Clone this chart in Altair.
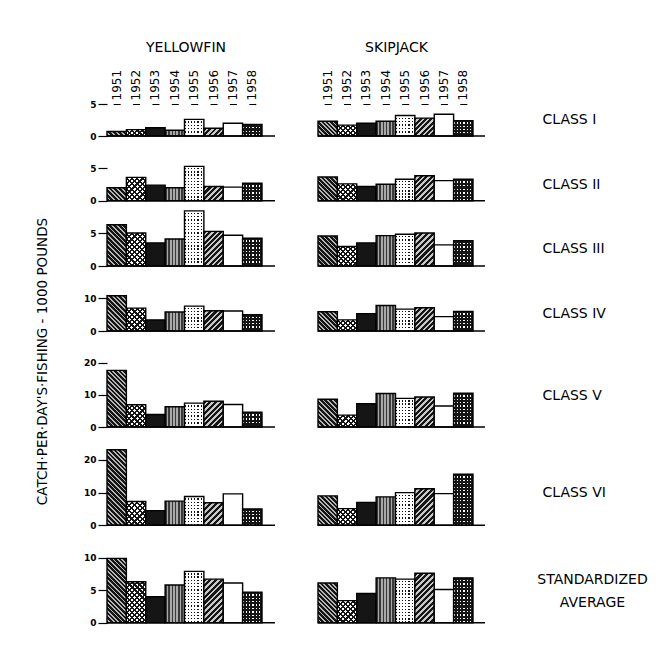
import altair as alt
import pandas as pd

years = ["1951", "1952", "1953", "1954", "1955", "1956", "1957", "1958"]
species = ["YELLOWFIN", "SKIPJACK"]
row_labels = ["CLASS I", "CLASS II", "CLASS III", "CLASS IV", "CLASS V", "CLASS VI",
              ["STANDARDIZED", "AVERAGE"]]
y_title = "CATCH·PER·DAY'S·FISHING - 1000 POUNDS"

yf_class1 = [0.7, 1.0, 1.3, 0.9, 2.6, 1.2, 2.0, 1.8]
sj_class1 = [2.3, 1.7, 2.0, 2.3, 3.2, 2.8, 3.4, 2.4]
yf_class2 = [2.0, 3.6, 2.4, 2.0, 5.3, 2.2, 2.1, 2.7]
sj_class2 = [3.65, 2.6, 2.2, 2.55, 3.3, 3.85, 3.1, 3.3]
yf_class3 = [6.25, 5.0, 3.5, 4.1, 8.35, 5.25, 4.65, 4.2]
sj_class3 = [4.55, 2.95, 3.5, 4.6, 4.8, 5.0, 3.2, 3.85]
yf_class4 = [10.8, 7.0, 3.4, 5.8, 7.6, 6.2, 6.1, 5.0]
sj_class4 = [5.9, 3.4, 5.3, 7.8, 6.7, 7.1, 4.4, 6.0]
yf_class5 = [17.6, 6.9, 3.9, 6.3, 7.4, 8.0, 7.0, 4.6]
sj_class5 = [8.6, 3.7, 7.2, 10.4, 8.9, 9.3, 6.5, 10.5]
yf_class6 = [23.1, 7.3, 4.5, 7.4, 8.8, 6.9, 9.6, 5.0]
sj_class6 = [9.0, 5.1, 7.0, 8.7, 10.0, 11.2, 9.7, 15.6]
yf_std = [9.9, 6.3, 4.0, 5.8, 7.9, 6.7, 6.1, 4.7]
sj_std = [6.1, 3.4, 4.5, 6.9, 6.7, 7.6, 5.1, 6.9]

tick_values = [[0, 5], [0, 5], [0, 5], [0, 10], [0, 10, 20], [0, 10, 20], [0, 5, 10]]

yf_rows = [yf_class1, yf_class2, yf_class3, yf_class4, yf_class5, yf_class6, yf_std]
sj_rows = [sj_class1, sj_class2, sj_class3, sj_class4, sj_class5, sj_class6, sj_std]

# ---- styling / layout (not data) ----
FONT = "DejaVu Sans"
heights = [32, 64.7, 65, 65, 96, 98.3, 96.7]
px_per_unit = [6.4, 6.48, 6.6, 3.27, 3.22, 3.27, 6.5]
label_y = [15.7, 48, 47.8, 47.3, 64.3, 65.8, 64.3]
BAR_RANGE = 155
BAR_W = BAR_RANGE / 8
YF_W = 168
SJ_W = 167
CLEAR = "rgba(255,255,255,0)"
INK = "#151515"

# pattern per year: list of fill layers (kind, colour-a, colour-b, period px, fraction of a)
patterns = [
    [("back", INK, "#b5b5b5", 3.2, 0.6)],                                   # 1951 "\" hatch
    [("solid", "#ffffff"), ("fwd", INK, CLEAR, 3.6, 0.42),
     ("back", INK, CLEAR, 3.6, 0.42)],                                       # 1952 cross-hatch
    [("solid", INK)],                                                        # 1953 black
    [("vert", "#3a3a3a", "#a8a8a8", 3.2, 0.5)],                              # 1954 grey stripes
    [("solid", "#ffffff"), ("vert", INK, CLEAR, 3.2, 0.4),
     ("horz", "#ffffff", CLEAR, 3.2, 0.6)],                                  # 1955 light dots
    [("fwd", INK, "#c8c8c8", 4.0, 0.55)],                                    # 1956 "/" hatch
    [("solid", "#ffffff")],                                                  # 1957 white
    [("solid", INK), ("vert", "#ffffff", CLEAR, 3.4, 0.4),
     ("horz", INK, CLEAR, 3.4, 0.6)],                                        # 1958 dark dots
]


def stripe_stops(n, a_col, b_col, frac):
    stops = []
    for k in range(n):
        a = k / n
        b = (k + frac) / n
        c = (k + 1) / n
        stops += [alt.GradientStop(offset=round(a, 5), color=a_col),
                  alt.GradientStop(offset=round(b, 5), color=a_col),
                  alt.GradientStop(offset=round(b, 5), color=b_col),
                  alt.GradientStop(offset=round(c, 5), color=b_col)]
    return stops


def make_fill(spec, h_px):
    if spec[0] == "solid":
        return spec[1]
    kind, a_col, b_col, period, frac = spec
    w = BAR_W
    h = max(h_px, 1.0)
    if kind == "vert":
        n = max(1, round(w / period))
        return alt.LinearGradient(gradient="linear", x1=0, y1=0, x2=1, y2=0,
                                  stops=stripe_stops(n, a_col, b_col, frac))
    if kind == "horz":
        n = max(1, round(h / period))
        return alt.LinearGradient(gradient="linear", x1=0, y1=0, x2=0, y2=1,
                                  stops=stripe_stops(n, a_col, b_col, frac))
    s = (w + h) / (w * w + h * h)
    n = max(1, round((w + h) / (period * 1.4142)))
    if kind == "fwd":
        return alt.LinearGradient(gradient="linear", x1=0, y1=0, x2=s * w, y2=s * h,
                                  stops=stripe_stops(n, a_col, b_col, frac))
    return alt.LinearGradient(gradient="linear", x1=0, y1=1, x2=s * w, y2=1 - s * h,
                              stops=stripe_stops(n, a_col, b_col, frac))


def panel(values, r, col):
    h = heights[r]
    dtop = h / px_per_unit[r]
    first = r == 0

    if first:
        xaxis = alt.Axis(orient="top", labelAngle=270, ticks=False, domain=True,
                         domainDash=[7, 12.375], domainDashOffset=13.2,
                         domainColor="black", domainWidth=1.2, title=None,
                         labelFont=FONT, labelFontSize=12, labelColor="black",
                         labelPadding=4)
    else:
        xaxis = None

    if col == 0:
        yaxis = alt.Axis(values=tick_values[r], tickSize=9, tickColor="black",
                         tickWidth=1.2, domain=False, grid=False,
                         labelFont=FONT, labelFontSize=9, labelFontWeight="bold",
                         labelColor="black", labelPadding=2,
                         title=y_title if r == 3 else None,
                         titleFont=FONT, titleFontSize=13.5, titleFontWeight="normal",
                         titleColor="black", titleAngle=270, titleAlign="center",
                         titleBaseline="middle", titleX=-65, titleY=95)
    else:
        lab = row_labels[r]
        multi = isinstance(lab, list)
        yaxis = alt.Axis(orient="right", values=tick_values[r], labels=False,
                         ticks=False, domain=False, grid=False, title=lab,
                         titleFont=FONT, titleFontSize=14, titleFontWeight="normal",
                         titleColor="black", titleAngle=0,
                         titleAlign="center" if multi else "left",
                         titleBaseline="middle", titleLineHeight=23,
                         titleX=107 if multi else 57,
                         titleY=label_y[r] - (11 if multi else 0))

    x = alt.X("year:N", sort=years,
              scale=alt.Scale(domain=years, range=[0, BAR_RANGE], paddingInner=0, paddingOuter=0),
              axis=xaxis)
    y = alt.Y("value:Q", scale=alt.Scale(domain=[0, dtop], nice=False, zero=True), axis=yaxis)

    layers = []
    for i, yr in enumerate(years):
        df = pd.DataFrame({"year": [yr], "value": [values[i]]})
        h_px = values[i] * px_per_unit[r]
        for spec in patterns[i]:
            layers.append(
                alt.Chart(df).mark_bar(fill=make_fill(spec, h_px), strokeWidth=0).encode(x=x, y=y)
            )
        layers.append(
            alt.Chart(df).mark_bar(fill=CLEAR, stroke="black", strokeWidth=1.4).encode(x=x, y=y)
        )
    base = alt.Chart(pd.DataFrame({"value": [0]})).mark_rule(color="black", strokeWidth=1.5).encode(
        y=y
    )
    layers.append(base)
    ch = alt.layer(*layers).properties(width=YF_W if col == 0 else SJ_W, height=h)
    if first:
        ch = ch.properties(title=alt.TitleParams(species[col], font=FONT, fontSize=14,
                                                 fontWeight="normal", color="black",
                                                 offset=14, dx=-5, anchor="middle"))
    return ch


charts = []
for r in range(7):
    charts.append(panel(yf_rows[r], r, 0))
    charts.append(panel(sj_rows[r], r, 1))

chart = alt.concat(*charts, columns=2, spacing={"row": 0, "column": 43}).properties(
    align="each", bounds="flush",
    padding={"left": 26, "top": 33, "right": 2, "bottom": 5},
).configure_view(stroke=None)

chart.save("out.html", embed_options={"renderer": "svg", "actions": False})
